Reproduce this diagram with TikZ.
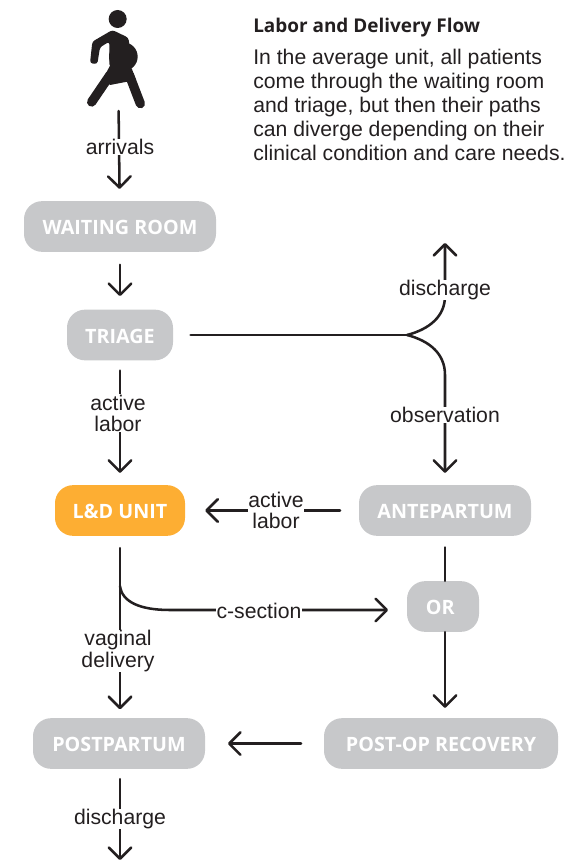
\documentclass[tikz,border=0pt]{standalone}
\usepackage{fontspec}
\setmainfont{Open Sans}
\newfontfamily\labfont{Liberation Sans}
\usetikzlibrary{arrows.meta}
\definecolor{boxgray}{HTML}{C7C8CA}
\definecolor{boxorange}{HTML}{FDAE33}
\definecolor{ink}{HTML}{231F20}
\tikzset{
  px/.style={x=0.75pt,y=-0.75pt},
  room/.style={rounded corners=13.5pt,fill=boxgray,text=white,font=\fontsize{14.8}{16}\selectfont\bfseries,inner sep=0pt,minimum height=38pt,text height=12.5pt,text depth=0pt},
  lab/.style={fill=white,inner sep=0.3pt,align=center,text=ink,font=\labfont\fontsize{15.9}{15.8}\selectfont},
  flow/.style={draw=ink,line width=1.9pt,line cap=round},
  arr/.style={flow,-{Straight Barb[length=8.5pt,width=17pt,line width=1.9pt,round]}},
}
\begin{document}
\begin{tikzpicture}[px]
\useasboundingbox (0,0) rectangle (583,862);
% person
\begin{scope}[shift={(60,0)},x=0.25pt,y=-0.25pt,ink]
\fill (173,57) circle (27);
\fill[rounded corners=2pt] (157,90) -- (205,113) -- (218,200) -- (148,200) -- (148,125) -- (120,142) -- (112,192) -- (90,190) -- (97,125) -- cycle;
\fill (190,170) circle (43);
\fill (150,197) -- (215,205) -- (228,240) -- (150,255) -- (130,235) -- cycle;
\draw[line width=7pt,line cap=round] (150,225) -- (95,306);
\draw[line width=7pt,line cap=round] (208,225) -- (241,311);
\end{scope}
\node[inner sep=0pt,minimum width=45pt,minimum height=72pt] (person) at (118,60) {};
% rooms
\node[room,minimum width=144pt] (wait) at (120,226.5) {WAITING ROOM};
\node[room,minimum width=79.5pt] (triage) at (120,335) {TRIAGE};
\node[room,minimum width=97.5pt,fill=boxorange] (ld) at (120,510.5) {L\&D UNIT};
\node[room,minimum width=129pt] (ante) at (445,510.5) {ANTEPARTUM};
\node[room,minimum width=54pt] (or) at (443,606.5) {\kern-4pt OR};
\node[room,minimum width=129pt] (post) at (119,743.5) {POSTPARTUM};
\node[room,minimum width=175.5pt] (recov) at (441,743.5) {POST-OP RECOVERY};
\coordinate (junc) at (407,335);
\coordinate (dis) at (445,243);
\coordinate (out) at (120,860);
% connectors
\draw[arr,shorten <=2pt,shorten >=9pt] (person) -- (wait);
\draw[arr,shorten <=9.5pt,shorten >=10pt] (wait) -- (triage);
\draw[flow,shorten <=13pt] (triage.east) -- (junc);
\draw[arr] (junc) .. controls (430,329) and (445,316) .. (445,296) -- (dis);
\draw[arr,shorten >=9pt] (junc) .. controls (430,341) and (445,354) .. (445,375) -- (ante.north -| 445,0);
\draw[arr,shorten <=7.5pt,shorten >=9pt] (triage) -- (ld);
\draw[arr,shorten <=14pt,shorten >=15pt] (ante) -- (ld);
\draw[flow,shorten <=8.5pt] (ante.south) -- (ante.south |- or.north);
\draw[arr,shorten >=7.5pt] (or.south -| 445,0) -- (recov.north -| 445,0);
\draw[arr,shorten <=9pt,shorten >=6.5pt] (ld) -- (post.north -| ld);
\draw[arr,shorten >=14pt] (120,586) .. controls (122,602) and (140,610) .. (170,610) -- (or.west |- 0,610);
\draw[arr,shorten <=17pt,shorten >=17pt] (recov) -- (post);
\draw[arr,shorten <=7.5pt] (post.south -| out) -- (out);
% labels
\node[lab] (l1) at (120,147) {arrivals};
\node[lab] (l2) at (445,290) {discharge};
\node[lab] (l3) at (445,415) {observation};
\node[lab] (l4) at (118,413) {active\\labor};
\node[lab] (l5) at (276,510.5) {active\\labor};
\node[lab] (l6) at (259,611) {c-section};
\node[lab] (l7) at (118,651) {vaginal\\delivery};
\node[lab] (l8) at (120,819) {discharge};
% text
\node[anchor=north west,inner sep=0pt,text=ink,font=\fontsize{14.2}{15}\selectfont\bfseries] (title) at (253,17.5) {Labor and Delivery Flow};
\node[anchor=north west,inner sep=0pt,align=left,text=ink,font=\labfont\fontsize{15.9}{18}\selectfont] (body) at (253,49) {In the average unit, all patients\\come through the waiting room\\and triage, but then their paths\\can diverge depending on their\\clinical condition and care needs.};
\end{tikzpicture}
\end{document}
